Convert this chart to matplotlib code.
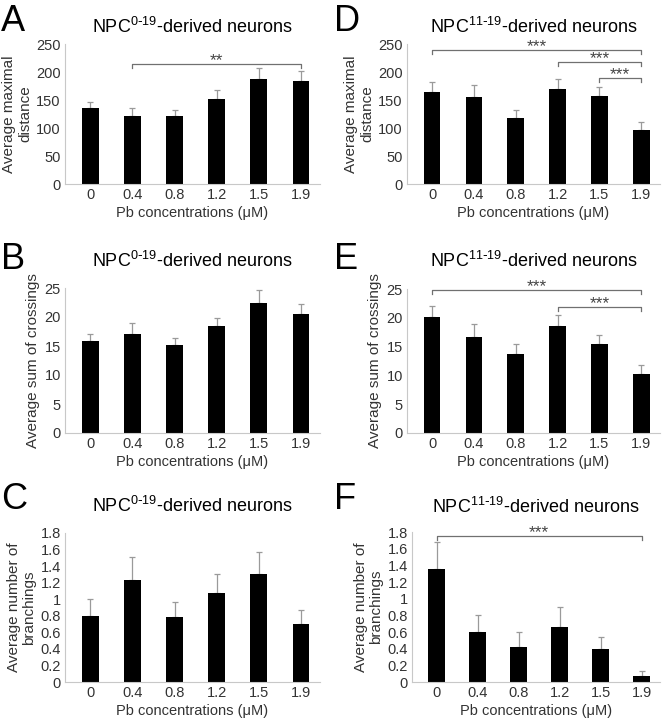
import matplotlib
matplotlib.use('Agg')
import matplotlib.pyplot as plt
from matplotlib.ticker import FormatStrFormatter

plt.rcParams['font.family'] = ['Liberation Sans', 'DejaVu Sans']
plt.rcParams['mathtext.default'] = 'regular'

conc = ['0', '0.4', '0.8', '1.2', '1.5', '1.9']

# A: NPC 0-19, maximal distance
dist_019 = [136, 121, 122, 151, 188, 184]
dist_019_err = [11, 14, 11, 16, 20, 18]
# D: NPC 11-19, maximal distance
dist_1119 = [164, 155, 118, 169, 157, 97]
dist_1119_err = [18, 21, 14, 19, 17, 13]
# B: NPC 0-19, sum of crossings
cross_019 = [15.9, 17.1, 15.2, 18.4, 22.4, 20.6]
cross_019_err = [1.2, 1.8, 1.1, 1.5, 2.3, 1.6]
# E: NPC 11-19, sum of crossings
cross_1119 = [20.1, 16.6, 13.7, 18.5, 15.4, 10.3]
cross_1119_err = [2.0, 2.3, 1.7, 2.0, 1.6, 1.5]
# C: NPC 0-19, branchings
branch_019 = [0.80, 1.23, 0.785, 1.075, 1.305, 0.705]
branch_019_err = [0.20, 0.28, 0.18, 0.23, 0.27, 0.165]
# F: NPC 11-19, branchings
branch_1119 = [1.36, 0.60, 0.425, 0.655, 0.395, 0.076]
branch_1119_err = [0.315, 0.20, 0.175, 0.24, 0.145, 0.06]

# significance brackets: (from, to, height, label)
sig_A = [(1, 5, 214, '**')]
sig_D = [(0, 5, 239, '***'), (3, 5, 218, '***'), (4, 5, 189, '***')]
sig_E = [(0, 5, 24.9, '***'), (3, 5, 21.9, '***')]
sig_F = [(0, 5, 1.75, '***')]

title_019 = r'NPC$^{0\text{-}19}$-derived neurons'
title_1119 = r'NPC$^{11\text{-}19}$-derived neurons'

W, H = 663, 719
fig = plt.figure(figsize=(W / 100, H / 100), dpi=100)


def px_axes(left, right, top, bottom):
    return fig.add_axes([left / W, 1 - bottom / H, (right - left) / W, (bottom - top) / H])


panels = [
    # letter, box, letter pos, values, err, ymax, step, ylabel, title, pad, sigs, drop
    ('A', (65, 320, 44, 184), (1, 4), dist_019, dist_019_err, 250, 50,
     'Average maximal\ndistance', title_019, 8, sig_A, 7),
    ('D', (407, 660, 44, 184), (334, 4), dist_1119, dist_1119_err, 250, 50,
     'Average maximal\ndistance', title_1119, 8, sig_D, 7),
    ('B', (65, 320, 288, 433), (1, 242), cross_019, cross_019_err, 25, 5,
     'Average sum of crossings', title_019, 15, [], 0),
    ('E', (407, 660, 289, 433), (334, 242), cross_1119, cross_1119_err, 25, 5,
     'Average sum of crossings', title_1119, 16, sig_E, 0.8),
    ('C', (65, 320, 533, 682), (1, 482), branch_019, branch_019_err, 1.8, 0.2,
     'Average number of\nbranchings', title_019, 15, [], 0),
    ('F', (412, 660, 532, 682), (334, 482), branch_1119, branch_1119_err, 1.8, 0.2,
     'Average number of\nbranchings', title_1119, 14, sig_F, 0.05),
]

for (letter, box, lpos, vals, errs, ymax, step, ylab, title, pad, sigs, drop) in panels:
    ax = px_axes(*box)
    x = list(range(len(conc)))
    ax.bar(x, vals, width=0.4, color='black', zorder=2)
    ax.errorbar(x, vals, yerr=[[0] * len(errs), errs], fmt='none', ecolor='#9a9a9a',
                elinewidth=0.9, capsize=2, capthick=0.9, zorder=1)
    ax.set_xlim(-0.6, 5.45)
    ax.set_ylim(0, ymax)
    n = int(round(ymax / step))
    ax.set_yticks([i * step for i in range(n + 1)])
    ax.yaxis.set_major_formatter(FormatStrFormatter('%g'))
    ax.set_xticks(x)
    ax.set_xticklabels(conc)
    for s in ['top', 'right']:
        ax.spines[s].set_visible(False)
    for s in ['left', 'bottom']:
        ax.spines[s].set_color('#c8c8c8')
        ax.spines[s].set_linewidth(0.8)
    ax.tick_params(axis='both', length=0, labelsize=10.5, colors='#333333', pad=3)
    ax.set_ylabel(ylab, fontsize=11, color='#333333', labelpad=3, linespacing=1.15)
    ax.set_xlabel('Pb concentrations (\u03bcM)', fontsize=10.5, color='#333333', labelpad=3)
    ax.set_title(title, fontsize=13, pad=pad)
    for (a, b, h, lab) in sigs:
        ax.plot([a, a, b, b], [h - drop, h, h, h - drop], color='#707070', lw=0.9,
                clip_on=False, zorder=3)
        ax.annotate(lab, ((a + b) / 2, h), xytext=(0, -1), textcoords='offset points',
                    ha='center', va='baseline', fontsize=12.5, color='#444444')
    fig.text(lpos[0] / W, 1 - lpos[1] / H, letter, fontsize=26, va='top', ha='left')

fig.savefig('out.png', dpi=100)
